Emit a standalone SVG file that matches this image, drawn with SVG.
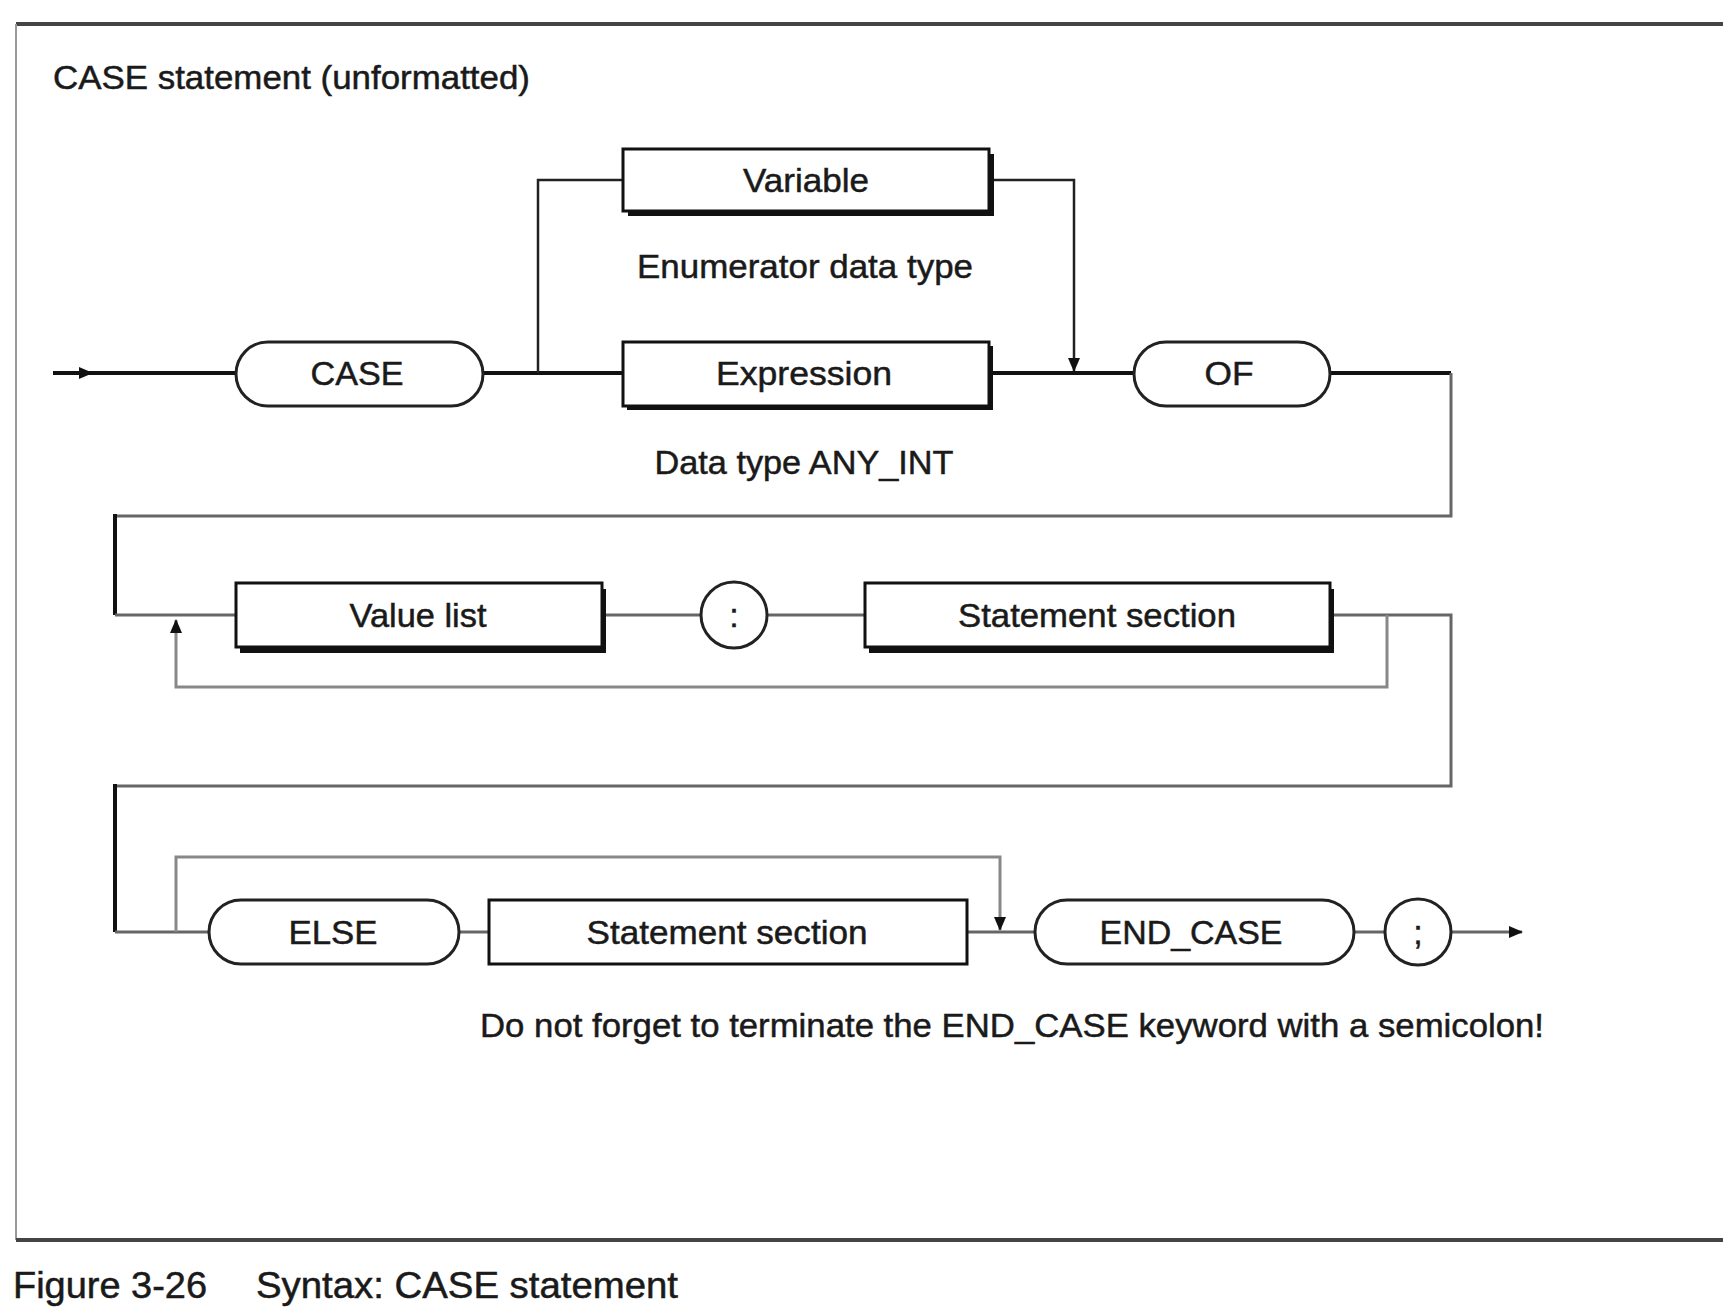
<svg xmlns="http://www.w3.org/2000/svg" width="1723" height="1315" viewBox="0 0 1723 1315">
<defs>
<style>
text{font-family:"Liberation Sans",Arial,sans-serif;fill:#1a1a1a;stroke:#1a1a1a;stroke-width:0.5}
.lbl{font-size:34px;text-anchor:middle}
.note{font-size:34px}
.box{fill:#fff;stroke:#111;stroke-width:3}
.shadow{fill:#111}
.pill{fill:#fff;stroke:#222;stroke-width:3}
.main{fill:none;stroke:#111;stroke-width:4}
.thin{fill:none;stroke:#222;stroke-width:2.5}
.gray{fill:none;stroke:#666;stroke-width:3}
.lgray{fill:none;stroke:#888;stroke-width:3}
</style>
<marker id="arb" markerWidth="14" markerHeight="14" refX="13" refY="7" orient="auto" markerUnits="userSpaceOnUse">
<path d="M0,1 L14,7 L0,13 Z" fill="#111"/>
</marker>
</defs>
<rect width="1723" height="1315" fill="#fff"/>
<g id="frame">
<line x1="16" y1="24" x2="1723" y2="24" stroke="#444" stroke-width="4"/>
<line x1="16" y1="24" x2="16" y2="1240" stroke="#999" stroke-width="2"/>
<line x1="16" y1="1240" x2="1723" y2="1240" stroke="#444" stroke-width="4"/>
<text x="53" y="89" font-size="34" textLength="477" lengthAdjust="spacingAndGlyphs">CASE statement (unformatted)</text>
<text x="13" y="1298" font-size="36" textLength="194" lengthAdjust="spacingAndGlyphs">Figure 3-26</text>
<text x="256" y="1298" font-size="36" textLength="422" lengthAdjust="spacingAndGlyphs">Syntax: CASE statement</text>
</g>
<g id="connectors">
<line class="main" x1="53" y1="373" x2="236" y2="373"/>
<path d="M60,373 L92,373" class="main" marker-end="url(#arb)"/>
<line class="main" x1="483" y1="373" x2="623" y2="373"/>
<path class="thin" d="M538,373 V180 H623"/>
<path class="thin" d="M989,180 H1074 V371" marker-end="url(#arb)"/>
<line class="main" x1="989" y1="373" x2="1134" y2="373"/>
<path class="main" d="M1330,373 H1451"/>
<path class="gray" d="M1451,373 V516 H115"/>
<line class="main" x1="115" y1="514" x2="115" y2="615"/>
<line class="gray" x1="115" y1="615" x2="236" y2="615"/>
<line class="gray" x1="602" y1="615" x2="701" y2="615"/>
<line class="gray" x1="767" y1="615" x2="865" y2="615"/>
<path class="gray" d="M1330,615 H1451 V786 H115"/>
<path class="lgray" d="M1387,615 V687 H176 V620" marker-end="url(#arb)"/>
<line class="main" x1="115" y1="784" x2="115" y2="932"/>
<line class="gray" x1="115" y1="932" x2="209" y2="932"/>
<path class="lgray" d="M176,932 V857 H1000 V930" marker-end="url(#arb)"/>
<line class="gray" x1="459" y1="932" x2="489" y2="932"/>
<line class="gray" x1="967" y1="932" x2="1035" y2="932"/>
<line class="gray" x1="1354" y1="932" x2="1385" y2="932"/>
<path class="gray" d="M1451,932 H1522" marker-end="url(#arb)"/>
</g>
<g id="n-case">
<rect class="pill" x="236" y="342" width="247" height="64" rx="32"/>
<text class="lbl" x="357" y="385" textLength="93" lengthAdjust="spacingAndGlyphs">CASE</text>
</g>
<g id="n-variable">
<rect class="shadow" x="628" y="154" width="366" height="62"/>
<rect class="box" x="623" y="149" width="366" height="62"/>
<text class="lbl" x="806" y="192" textLength="126" lengthAdjust="spacingAndGlyphs">Variable</text>
</g>
<g id="n-enum">
<text class="lbl" x="805" y="278" textLength="336" lengthAdjust="spacingAndGlyphs">Enumerator data type</text>
</g>
<g id="n-expression">
<rect class="shadow" x="627" y="346" width="366" height="64"/>
<rect class="box" x="623" y="342" width="366" height="64"/>
<text class="lbl" x="804" y="385" textLength="176" lengthAdjust="spacingAndGlyphs">Expression</text>
</g>
<g id="n-anyint">
<text class="lbl" x="804" y="474" textLength="299" lengthAdjust="spacingAndGlyphs">Data type ANY_INT</text>
</g>
<g id="n-of">
<rect class="pill" x="1134" y="342" width="196" height="64" rx="32"/>
<text class="lbl" x="1229" y="385" textLength="49" lengthAdjust="spacingAndGlyphs">OF</text>
</g>
<g id="n-valuelist">
<rect class="shadow" x="240" y="589" width="366" height="64"/>
<rect class="box" x="236" y="583" width="366" height="64"/>
<text class="lbl" x="418" y="627" textLength="137" lengthAdjust="spacingAndGlyphs">Value list</text>
</g>
<g id="n-colon">
<circle cx="734" cy="615" r="33" fill="#fff" stroke="#222" stroke-width="3"/>
<text class="lbl" x="734" y="627">:</text>
</g>
<g id="n-stmt1">
<rect class="shadow" x="869" y="589" width="465" height="64"/>
<rect class="box" x="865" y="583" width="465" height="64"/>
<text class="lbl" x="1097" y="627" textLength="278" lengthAdjust="spacingAndGlyphs">Statement section</text>
</g>
<g id="n-else">
<rect class="pill" x="209" y="900" width="250" height="64" rx="32"/>
<text class="lbl" x="333" y="944" textLength="89" lengthAdjust="spacingAndGlyphs">ELSE</text>
</g>
<g id="n-stmt2">
<rect class="box" x="489" y="900" width="478" height="64" stroke-width="4"/>
<text class="lbl" x="727" y="944" textLength="281" lengthAdjust="spacingAndGlyphs">Statement section</text>
</g>
<g id="n-endcase">
<rect class="pill" x="1035" y="900" width="319" height="64" rx="32"/>
<text class="lbl" x="1191" y="944" textLength="183" lengthAdjust="spacingAndGlyphs">END_CASE</text>
</g>
<g id="n-semicolon">
<circle cx="1418" cy="932" r="33" fill="#fff" stroke="#222" stroke-width="3"/>
<text class="lbl" x="1418" y="944">;</text>
</g>
<g id="n-note">
<text class="note" x="480" y="1037" textLength="1064" lengthAdjust="spacingAndGlyphs">Do not forget to terminate the END_CASE keyword with a semicolon!</text>
</g>
</svg>
